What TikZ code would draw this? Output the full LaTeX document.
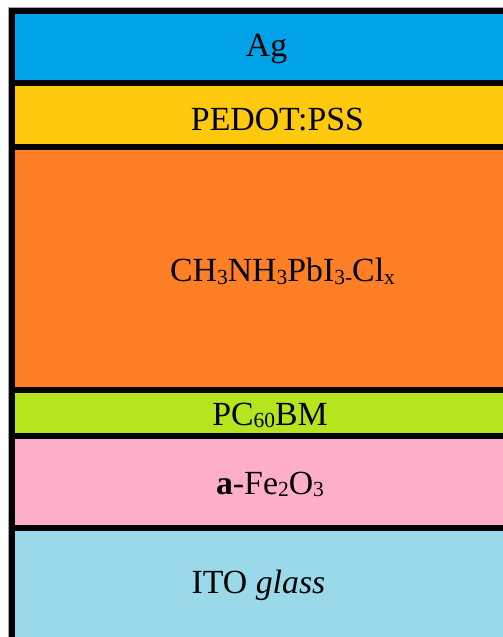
\documentclass[tikz,border=0pt]{standalone}
\usepackage{fontspec}
\setmainfont{Liberation Serif}
\definecolor{agblue}{RGB}{0,162,232}
\definecolor{pedot}{RGB}{255,201,14}
\definecolor{perov}{RGB}{255,127,39}
\definecolor{pcbm}{RGB}{181,230,29}
\definecolor{hem}{RGB}{255,174,201}
\definecolor{ito}{RGB}{153,217,234}
\newcommand{\sbs}[1]{\raisebox{-2.5pt}{\fontsize{21.5}{21.5}\selectfont #1}}
\begin{document}
\begin{tikzpicture}[x=1pt,y=-1pt,
  lbl/.style={anchor=base,inner sep=0pt,font=\fontsize{33.8}{34}\selectfont}]
\useasboundingbox (0,0) rectangle (503,637);
\fill[white] (0,0) rectangle (503,637);
\draw[gray!70,line width=1pt] (8.5,637) -- (8.5,7.5) -- (503,7.5);
\fill[black] (9,8) rectangle (503,637);
\fill[agblue] (15,14) rectangle (503,80);
\fill[pedot] (15,86) rectangle (503,144);
\fill[perov] (15,150) rectangle (503,387);
\fill[pcbm] (15,393) rectangle (503,433);
\fill[hem] (15,439) rectangle (503,525);
\fill[ito] (15,531) rectangle (503,637);
\node[lbl] (ag) at (266.5,56.7) {Ag};
\node[lbl] (pedotlbl) at (277.5,130) {PEDOT:PSS};
\node[lbl] (perovlbl) at (282.5,281.7) {CH\sbs{3}NH\sbs{3}PbI\sbs{3-}Cl\sbs{x}};
\node[lbl] (pcbmlbl) at (270,425.3) {PC\sbs{60}BM};
\node[lbl] (hemlbl) at (270,494) {\textbf{a}-Fe\sbs{2}O\sbs{3}};
\node[lbl] (itolbl) at (258.5,593.3) {ITO \textit{glass}};
\end{tikzpicture}
\end{document}
